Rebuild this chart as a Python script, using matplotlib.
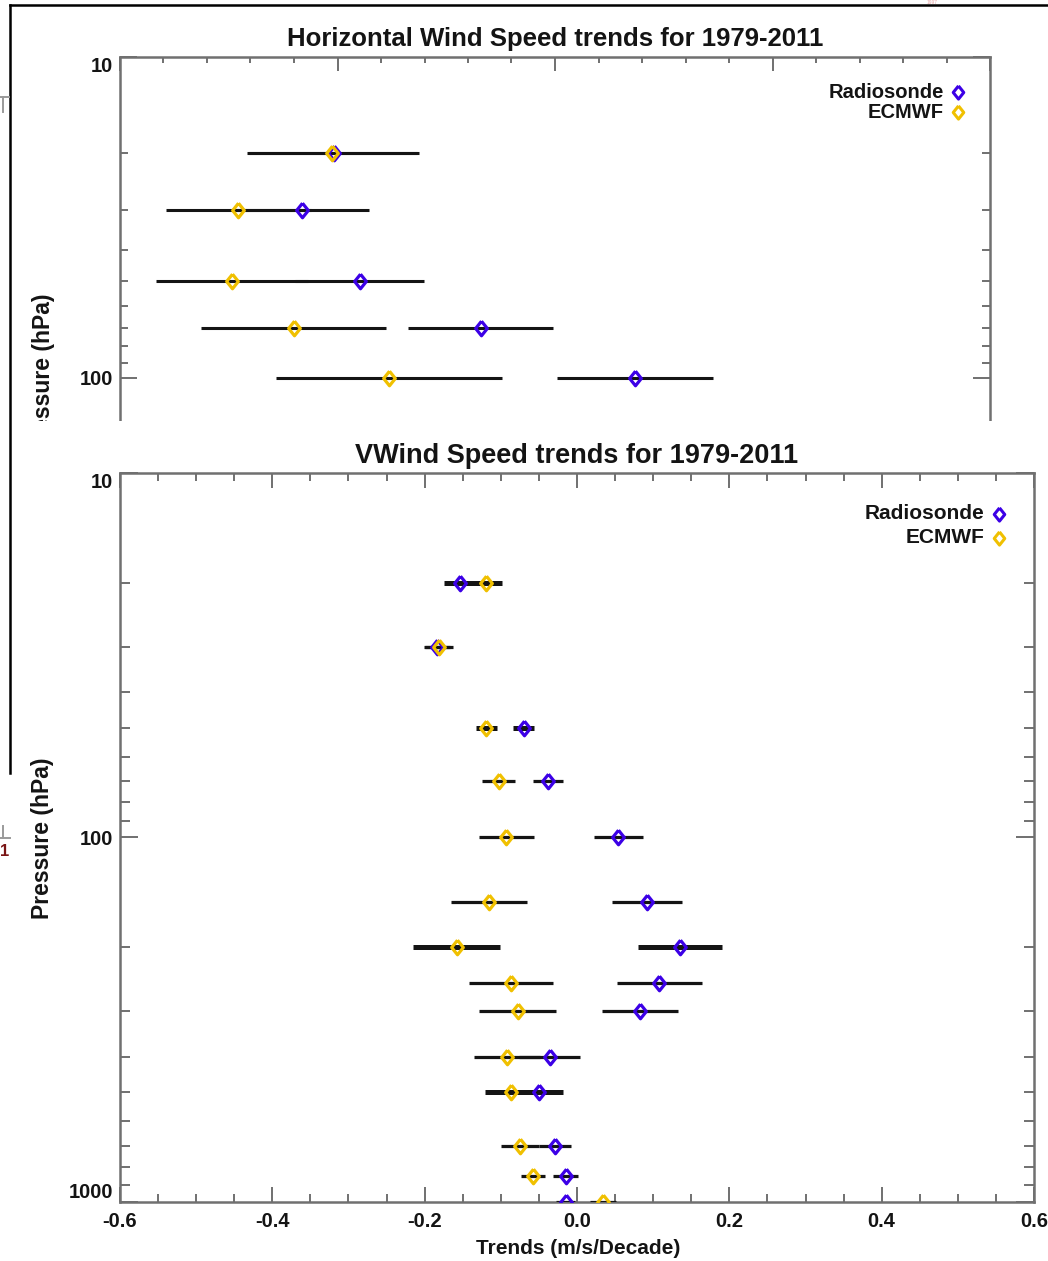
import numpy as np
import matplotlib
matplotlib.use("Agg")
import matplotlib.pyplot as plt
from matplotlib.patches import Rectangle
from matplotlib.lines import Line2D
from matplotlib.ticker import LogLocator, NullFormatter, MultipleLocator

plt.rcParams['font.family'] = ['Liberation Sans', 'DejaVu Sans']

# ---------------- data ----------------
# V-wind speed trends (m/s/decade) by pressure level (hPa)
v_levels = [20, 30, 50, 70, 100, 150, 200, 250, 300, 400, 500, 700, 850, 1000]
v_radiosonde = [-0.154, -0.184, -0.070, -0.038, 0.054, 0.092, 0.135, 0.108,
                0.083, -0.036, -0.050, -0.029, -0.015, -0.015]
v_radiosonde_err = [0.020, 0.017, 0.014, 0.020, 0.032, 0.046, 0.055, 0.056,
                    0.050, 0.040, 0.032, 0.021, 0.016, 0.012]
v_ecmwf = [-0.119, -0.181, -0.119, -0.103, -0.093, -0.116, -0.158, -0.087,
           -0.078, -0.092, -0.087, -0.075, -0.058, 0.034]
v_ecmwf_err = [0.020, 0.018, 0.014, 0.022, 0.036, 0.050, 0.057, 0.055,
               0.051, 0.043, 0.034, 0.025, 0.016, 0.017]
v_significant = [True, False, True, False, False, False, True, False,
                 False, False, True, False, False, False]

# Horizontal wind speed trends (upper levels)
h_levels = [20, 30, 50, 70, 100]
h_radiosonde = [-0.508, -0.582, -0.449, -0.171, 0.184]
h_radiosonde_err = [0.195, 0.154, 0.148, 0.166, 0.179]
h_ecmwf = [-0.513, -0.728, -0.743, -0.601, -0.381]
h_ecmwf_err = [0.195, 0.167, 0.175, 0.213, 0.260]

series_names = ["Radiosonde", "ECMWF"]
x_ticks_v = [-0.6, -0.4, -0.2, 0.0, 0.2, 0.4, 0.6]
x_ticklabels_v = ["-0.6", "-0.4", "-0.2", "0.0", "0.2", "0.4", "0.6"]
y_ticks = [10, 100, 1000]
y_ticklabels = ["10", "100", "1000"]

# ---------------- layout helpers ----------------
W, H = 1048, 1261


def fx(px):
    return px / W


def fy(py):
    return 1 - py / H


def rect(left, top, right, bottom):
    return [fx(left), fy(bottom), fx(right) - fx(left), fy(top) - fy(bottom)]


SPINE = '#707070'
BLUE = '#3c00e6'
GOLD = '#f0c000'
INK = '#141414'
# diamond a little narrower than tall
DIAMOND = [(0, 1), (0.8, 0), (0, -1), (-0.8, 0), (0, 1)]

fig = plt.figure(figsize=(W / 100, H / 100), dpi=100)
fig.patch.set_facecolor('white')


def setup_axes(ax, xlim, xmajor, xminor, xlen, ylen, show_xlabels):
    ax.set_yscale('log')
    ax.set_xlim(*xlim)
    ax.set_xticks(xmajor[0], xmajor[1] if show_xlabels else [''] * len(xmajor[0]),
                  fontweight='bold', color=INK)
    ax.xaxis.set_minor_locator(MultipleLocator(xminor))
    ax.set_yticks(y_ticks, y_ticklabels, fontweight='bold', color=INK)
    ax.yaxis.set_minor_locator(LogLocator(base=10, subs=np.arange(2, 10)))
    ax.yaxis.set_minor_formatter(NullFormatter())
    ax.set_ylim(1000, 10)
    for s in ax.spines.values():
        s.set_color(SPINE)
        s.set_linewidth(1.8)
    ax.tick_params(which='both', direction='in', top=True, right=True,
                   color=SPINE, width=1.4)
    ax.tick_params(axis='x', which='major', length=xlen[0], pad=7, labelsize=14.5)
    ax.tick_params(axis='x', which='minor', length=xlen[1])
    ax.tick_params(axis='y', which='major', length=ylen[0], pad=5, labelsize=14.5)
    ax.tick_params(axis='y', which='minor', length=ylen[1])
    labels = ax.yaxis.get_majorticklabels()
    labels[0].set_va('top')
    labels[-1].set_va('bottom')


def draw_trends(ax, levels, series, errs, widths):
    colors = [BLUE, GOLD]
    for vals, err in zip(series, errs):
        for p, v, e, lw in zip(levels, vals, err, widths):
            ax.plot([v - e, v + e], [p, p], color=INK, lw=lw,
                    solid_capstyle='butt', zorder=3)
    for vals, c in zip(series, colors):
        ax.plot(vals, levels, ls='none', marker=DIAMOND, ms=10.5, mfc='none',
                mec=c, mew=2.3, zorder=4)


def draw_legend(ax, xt, xm, y0, y1, size):
    for name, c, y in zip(series_names, [BLUE, GOLD], [y0, y1]):
        ax.text(xt, y, name, transform=ax.transAxes, ha='right', va='center',
                fontsize=size, fontweight='bold', color=INK)
        ax.plot([xm], [y], transform=ax.transAxes, ls='none', marker=DIAMOND,
                ms=9.5, mfc='none', mec=c, mew=2.2, clip_on=False)


# ---------------- horizontal wind speed panel (behind) ----------------
axh = fig.add_axes(rect(120, 57, 990, 698), zorder=0)
setup_axes(axh, (-1.0, 1.0), ([-1.0, -0.5, 0.0, 0.5, 1.0], None), 0.1,
           (10, 4), (12, 6), False)
draw_trends(axh, h_levels, [h_radiosonde, h_ecmwf],
            [h_radiosonde_err, h_ecmwf_err], [2.2] * len(h_levels))
draw_legend(axh, 0.947, 0.963, 0.945, 0.914, 14.5)
axh.set_xlim(-1.0, 1.0)
axh.set_ylim(1000, 10)
axh.set_title("Horizontal Wind Speed trends for 1979-2011", fontsize=18.5,
              fontweight='bold', color=INK, pad=8)
fig.text(fx(44), fy(374), "Pressure (hPa)", rotation=90, ha='center',
         va='center', fontsize=16.5, fontweight='bold', color=INK, zorder=0.5)

# the V-wind window sits on top of the lower part
fig.add_artist(Rectangle((fx(13), 0), 1 - fx(13), fy(421), transform=fig.transFigure,
                         facecolor='white', edgecolor='none', zorder=1))

# ---------------- V-wind speed panel (front) ----------------
axv = fig.add_axes(rect(120, 473, 1034, 1202), zorder=2)
setup_axes(axv, (-0.6, 0.6), (x_ticks_v, x_ticklabels_v), 0.05,
           (11, 5.5), (13, 7), True)
widths_v = [3.6 if s else 2.3 for s in v_significant]
draw_trends(axv, v_levels, [v_radiosonde, v_ecmwf],
            [v_radiosonde_err, v_ecmwf_err], widths_v)
draw_legend(axv, 0.946, 0.962, 0.944, 0.911, 15)
axv.set_xlim(-0.6, 0.6)
axv.set_ylim(1000, 10)
axv.set_title("VWind Speed trends for 1979-2011", fontsize=19.5,
              fontweight='bold', color=INK, pad=7)
fig.text(fx(43), fy(838), "Pressure (hPa)", rotation=90, ha='center',
         va='center', fontsize=16.5, fontweight='bold', color=INK, zorder=3)
fig.text(fx(578), fy(1248), "Trends (m/s/Decade)", ha='center', va='center',
         fontsize=15, fontweight='bold', color=INK, zorder=3)

# ---------------- window frame and edges of other windows ----------------
frame = dict(transform=fig.transFigure, zorder=10)
fig.add_artist(Line2D([fx(10), fx(10)], [fy(5), fy(773)], color='black', lw=1.8, **frame))
fig.add_artist(Line2D([fx(10), 1], [fy(5), fy(5)], color='black', lw=1.8, **frame))
fig.add_artist(Line2D([0, fx(9)], [fy(97), fy(97)], color='#9a9a9a', lw=1.4, **frame))
fig.add_artist(Line2D([fx(3), fx(3)], [fy(97), fy(112)], color='#9a9a9a', lw=1.4, **frame))
fig.add_artist(Line2D([0, fx(10)], [fy(838), fy(838)], color='#9a9a9a', lw=1.4, **frame))
fig.add_artist(Line2D([fx(3), fx(3)], [fy(826), fy(838)], color='#9a9a9a', lw=1.4, **frame))
fig.text(fx(0), fy(852), "1", ha='left', va='center', fontsize=12,
         fontweight='bold', color='#7a1515', zorder=10)
fig.text(fx(932), fy(0.5), "1997", ha='center', va='top', fontsize=3.5,
         color='#e8a8a8', zorder=10)

fig.savefig("out.png", dpi=100)
